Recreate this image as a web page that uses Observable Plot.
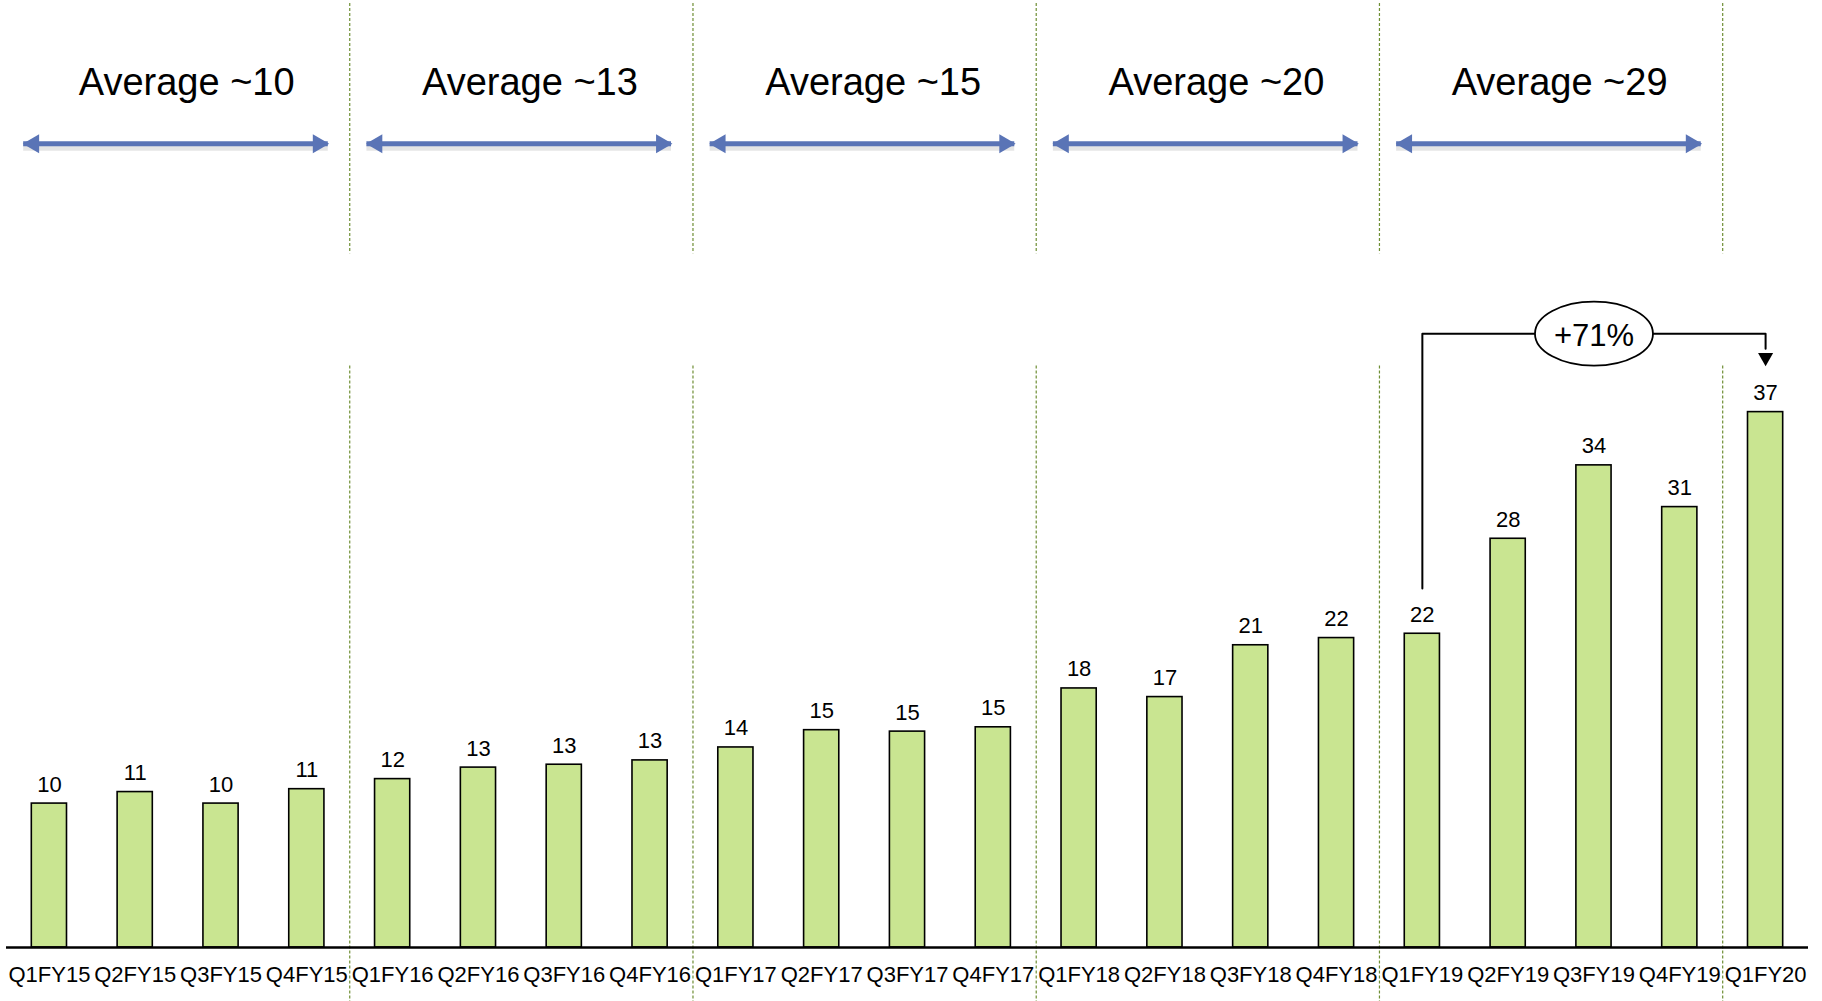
<!DOCTYPE html>
<html>
<head>
<meta charset="utf-8">
<script src="https://cdn.jsdelivr.net/npm/d3@7"></script>
<script src="https://cdn.jsdelivr.net/npm/@observablehq/plot@0.6"></script>
<style>
  html, body { margin: 0; padding: 0; background: #fff; overflow: hidden; }
  #chart svg { display: block; }
</style>
</head>
<body>
<div id="chart"></div>
<script>
// ---- data ----
const categories = ["Q1FY15","Q2FY15","Q3FY15","Q4FY15","Q1FY16","Q2FY16","Q3FY16","Q4FY16",
  "Q1FY17","Q2FY17","Q3FY17","Q4FY17","Q1FY18","Q2FY18","Q3FY18","Q4FY18",
  "Q1FY19","Q2FY19","Q3FY19","Q4FY19","Q1FY20"];
const values = [10.0, 10.8, 10.0, 11.0, 11.7, 12.5, 12.7, 13.0, 13.9, 15.1, 15.0, 15.3,
  18.0, 17.4, 21.0, 21.5, 21.8, 28.4, 33.5, 30.6, 37.2];
const valueLabels = [10, 11, 10, 11, 12, 13, 13, 13, 14, 15, 15, 15, 18, 17, 21, 22, 22, 28, 34, 31, 37];
const groupLabels = ["Average ~10", "Average ~13", "Average ~15", "Average ~20", "Average ~29"];
const groupFirst = ["Q1FY15", "Q1FY16", "Q1FY17", "Q1FY18", "Q1FY19"];
const groupLast  = ["Q4FY15", "Q4FY16", "Q4FY17", "Q4FY18", "Q4FY19"];
const growthLabel = "+71%";
const growthFrom = "Q1FY19";
const growthTo = "Q1FY20";

// ---- derived tables ----
const idx = c => categories.indexOf(c);
const bars = categories.map((c, i) => ({i, category: c, value: values[i], label: valueLabels[i]}));
const groups = groupLabels.map((label, g) => ({
  label, start: idx(groupFirst[g]), end: idx(groupLast[g]),
  center: (idx(groupFirst[g]) + idx(groupLast[g])) / 2
}));
const separators = groups.slice(1).map(g => g.start - 0.5).concat([idx(growthTo) - 0.5]);

// ---- layout constants (in data units) ----
const HALF = 0.205;       // half bar width in category steps
const AVG_Y = 60.1;
const ARROW_Y = 55.85;
const BRACKET_Y = 42.65;
const A0 = -0.3, A1 = 0.25; // arrow extents around each group
const fromI = idx(growthFrom), toI = idx(growthTo);
const midI = (fromI + toI) / 2;
const bracket = [
  {x: fromI, y: 24.95}, {x: fromI, y: BRACKET_Y},
  {x: toI, y: BRACKET_Y}, {x: toI, y: 41.6}
];
const ellipse = {
  draw(ctx) {
    const rx = 59, ry = 32, k = 0.5523;
    ctx.moveTo(rx, 0);
    ctx.bezierCurveTo(rx, ry * k, rx * k, ry, 0, ry);
    ctx.bezierCurveTo(-rx * k, ry, -rx, ry * k, -rx, 0);
    ctx.bezierCurveTo(-rx, -ry * k, -rx * k, -ry, 0, -ry);
    ctx.bezierCurveTo(rx * k, -ry, rx, -ry * k, rx, 0);
    ctx.closePath();
  }
};

const BLUE = "#5a74b6";
const SEP = "#6f8f35";

const chart = Plot.plot({
  width: 1822,
  height: 1001,
  marginLeft: 6,
  marginRight: 14,
  marginTop: 0,
  marginBottom: 54,
  style: {fontFamily: "'Liberation Sans', Arial, sans-serif", background: "#fff", color: "#000", overflow: "visible"},
  x: {domain: [-0.5, categories.length - 0.5]},
  y: {domain: [0, 65.8], axis: null},
  marks: [
    // separators (upper and lower segments)
    Plot.ruleX(separators, {x: d => d, y1: 65.6, y2: 48.2, stroke: SEP, strokeWidth: 1.2, strokeDasharray: "3,2"}),
    Plot.ruleX(separators, {x: d => d, y1: 40.4, y2: -3.8, stroke: SEP, strokeWidth: 1.2, strokeDasharray: "3,2"}),
    // average labels
    Plot.text(groups, {x: d => d.center + 0.1, y: AVG_Y, text: "label", fontSize: 38, lineAnchor: "middle"}),
    // double-headed arrows (shadow, shaft, heads)
    Plot.ruleY(groups, {x1: d => d.start + A0, x2: d => d.end + A1, y: ARROW_Y, dy: 4, stroke: "#000", strokeOpacity: 0.1, strokeWidth: 6}),
    Plot.ruleY(groups, {x1: d => d.start + A0, x2: d => d.end + A1, y: ARROW_Y, stroke: BLUE, strokeWidth: 5}),
    Plot.dot(groups, {x: d => d.start + A0, y: ARROW_Y, dx: 10, symbol: "triangle", r: 7, rotate: -90, fill: BLUE, stroke: null}),
    Plot.dot(groups, {x: d => d.end + A1, y: ARROW_Y, dx: -10, symbol: "triangle", r: 7, rotate: 90, fill: BLUE, stroke: null}),
    // bars
    Plot.rect(bars, {x1: d => d.i - HALF, x2: d => d.i + HALF, y1: 0, y2: "value", fill: "#c9e591", stroke: "#000", strokeWidth: 1.6}),
    Plot.text(bars, {x: "i", y: "value", text: "label", lineAnchor: "bottom", dy: -12, fontSize: 22}),
    // baseline
    Plot.ruleY([0], {stroke: "#000", strokeWidth: 2.5}),
    // growth bracket
    Plot.line(bracket, {x: "x", y: "y", stroke: "#000", strokeWidth: 2, curve: "linear"}),
    Plot.dot([{x: toI, y: 41.0}], {x: "x", y: "y", symbol: "triangle", r: 5.6, rotate: 180, fill: "#000", stroke: null}),
    Plot.dot([{x: midI, y: BRACKET_Y}], {x: "x", y: "y", symbol: ellipse, fill: "#fff", stroke: "#000", strokeWidth: 1.8}),
    Plot.text([growthLabel], {x: midI, y: 42.5, text: d => d, fontSize: 31, lineAnchor: "middle"}),
    // x axis
    Plot.axisX({ticks: bars.map(d => d.i), tickFormat: i => categories[i], tickSize: 0, tickPadding: 19, fontSize: 22, label: null})
  ]
});
document.getElementById("chart").appendChild(chart);
</script>
</body>
</html>
